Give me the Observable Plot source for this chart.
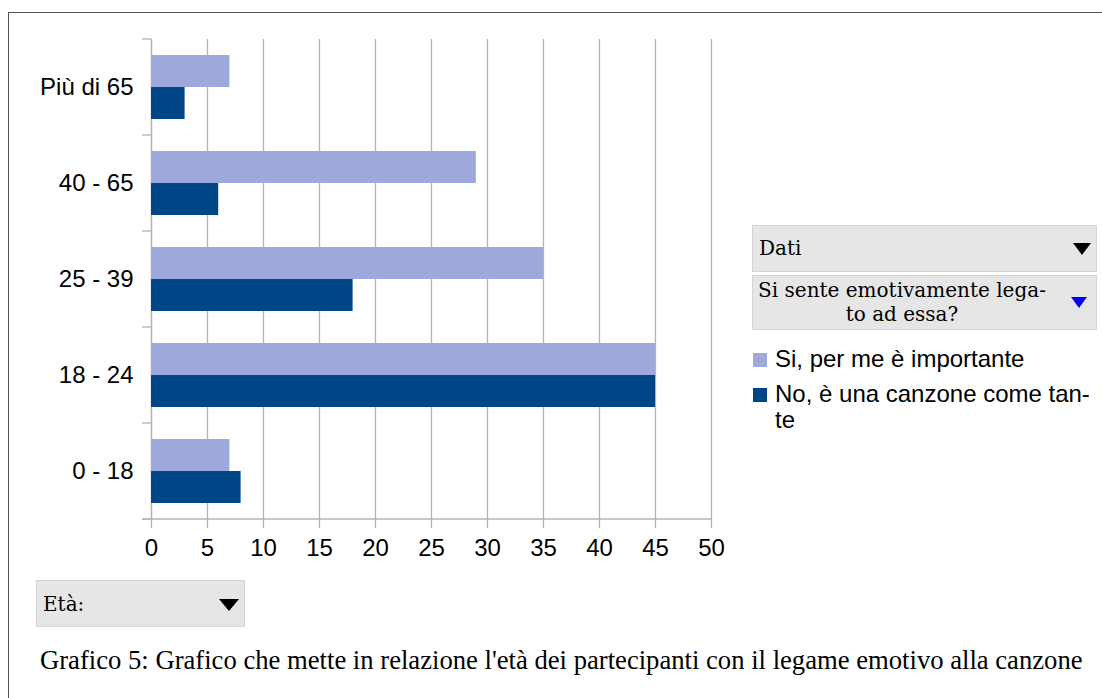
<!DOCTYPE html>
<html>
<head>
<meta charset="utf-8">
<script src="https://cdn.jsdelivr.net/npm/d3@7"></script>
<script src="https://cdn.jsdelivr.net/npm/@observablehq/plot@0.6"></script>
<style>
  html, body { margin: 0; padding: 0; background: #fff; }
  #page { position: relative; width: 1102px; height: 698px; overflow: hidden; background: #fff; }
  .frameTop { position: absolute; left: 8px; top: 12px; width: 1094px; height: 0; border-top: 1.5px solid #555; }
  .frameLeft { position: absolute; left: 8px; top: 12px; width: 0; height: 686px; border-left: 1.5px solid #555; }
  #chart { position: absolute; left: 0; top: 0; }
  .pivot { position: absolute; background: #e6e6e6; border: 1px solid #d4d4d4; box-sizing: border-box;
           font-family: "DejaVu Serif", serif; font-size: 20px; color: #000; }
  .tri { position: absolute; width: 0; height: 0; border-left: 9px solid transparent; border-right: 9px solid transparent; }
  .legItem { position: absolute; left: 775px; font-family: "Liberation Sans", Arial, sans-serif; font-size: 24px; line-height: 26px; color: #000; white-space: nowrap; }
  .sw { position: absolute; left: 753px; width: 14px; height: 14px; }
  #caption { position: absolute; left: 40px; top: 646px; font-family: "Liberation Serif", "Times New Roman", serif; font-size: 24px; line-height: 28px; white-space: nowrap; color: #000; }
</style>
</head>
<body>
<div id="page">
  <div class="frameTop"></div>
  <div class="frameLeft"></div>
  <div id="chart"></div>
  <div id="legend"></div>
  <div class="pivot" style="left:752px;top:225px;width:345px;height:47px;">
    <div style="position:absolute;left:6px;top:10px;" id="pivotData"></div>
    <div class="tri" style="left:320px;top:17px;border-top:12px solid #000;"></div>
  </div>
  <div class="pivot" style="left:752px;top:275px;width:345px;height:55px;">
    <div style="position:absolute;left:-2px;top:2px;width:302px;text-align:center;line-height:24px;white-space:nowrap;" id="pivotCol"></div>
    <div class="tri" style="left:318px;top:21px;border-left-width:8px;border-right-width:8px;border-top:11px solid #0000ff;"></div>
  </div>
  <div class="pivot" style="left:36px;top:580px;width:209px;height:47px;">
    <div style="position:absolute;left:6px;top:11px;" id="pivotRow"></div>
    <div class="tri" style="left:182px;top:18px;border-left-width:10px;border-right-width:10px;border-top:12px solid #000;"></div>
  </div>
  <div id="caption"></div>
</div>
<script>
// ---- data ----
const categories = ["Più di 65", "40 - 65", "25 - 39", "18 - 24", "0 - 18"];
const seriesNames = ["Si, per me è importante", "No, è una canzone come tante"];
const siValues = [7, 29, 35, 45, 7];
const noValues = [3, 6, 18, 45, 8];
const seriesColors = ["#9ea8da", "#004586"];
const xTicks = [0, 5, 10, 15, 20, 25, 30, 35, 40, 45, 50];
const legendLabels = ["Si, per me è importante", "No, è una canzone come tan-<br>te"];
const pivotDataLabel = "Dati";
const pivotColLabel = "Si sente emotivamente lega-<br>to ad essa?";
const pivotRowLabel = "Età:";
const captionText = "Grafico 5: Grafico che mette in relazione l'età dei partecipanti con il legame emotivo alla canzone";

const rows = categories.flatMap((c, i) => [
  {cat: c, series: seriesNames[0], value: siValues[i]},
  {cat: c, series: seriesNames[1], value: noValues[i]}
]);

const gridColor = "#b3b3b3";

const plot = Plot.plot({
  width: 740,
  height: 580,
  marginLeft: 151,
  marginRight: 29,
  marginTop: 39,
  marginBottom: 61,
  style: {fontFamily: "'Liberation Sans', Arial, sans-serif", fontSize: "24px", color: "#000", background: "transparent"},
  x: {domain: [0, 50], label: null},
  y: {domain: seriesNames, paddingInner: 0, paddingOuter: 0.5, axis: null, label: null},
  fy: {domain: categories, padding: 0, label: null},
  color: {domain: seriesNames, range: seriesColors},
  marks: [
    Plot.gridX({ticks: xTicks, stroke: gridColor, strokeOpacity: 1, strokeWidth: 1.3}),
    Plot.ruleX([0], {stroke: gridColor, strokeWidth: 1.3}),
    Plot.barX(rows, {x: "value", y: "series", fy: "cat", fill: "series"}),
    Plot.axisX({ticks: xTicks, tickSize: 9, tickPadding: 10, stroke: gridColor, strokeWidth: 1.3, fill: "#000", fontSize: 24, label: null, tickFormat: d => String(d)}),
    Plot.axisFy({anchor: "left", tickSize: 0, tickPadding: 18, fontSize: 24, label: null, fill: "#000"})
  ]
});
document.getElementById("chart").appendChild(plot);

// axis line and category boundary ticks, positioned through the plot's own scales
const xs = plot.scale("x");
const fys = plot.scale("fy");
const svg = d3.select(plot);
const x0 = xs.apply(0), xEnd = xs.apply(50);
const bw = fys.bandwidth;
const bounds = categories.map(c => fys.apply(c)).concat([fys.apply(categories[categories.length - 1]) + bw]);
const g = svg.append("g").attr("stroke", gridColor).attr("stroke-width", 1.3);
bounds.forEach(y => {
  g.append("line").attr("x1", x0 - 9).attr("x2", x0).attr("y1", y).attr("y2", y);
});
g.append("line").attr("x1", x0 - 9).attr("x2", xEnd).attr("y1", bounds[bounds.length - 1]).attr("y2", bounds[bounds.length - 1]);

// legend
const legend = document.getElementById("legend");
const legTops = [346, 381];
seriesNames.forEach((s, i) => {
  const sw = document.createElement("div");
  sw.className = "sw";
  sw.style.top = (legTops[i] + 7) + "px";
  sw.style.background = seriesColors[i];
  legend.appendChild(sw);
  const t = document.createElement("div");
  t.className = "legItem";
  t.style.top = legTops[i] + "px";
  t.innerHTML = legendLabels[i];
  legend.appendChild(t);
});

document.getElementById("pivotData").textContent = pivotDataLabel;
document.getElementById("pivotCol").innerHTML = pivotColLabel;
document.getElementById("pivotRow").textContent = pivotRowLabel;

// caption fitted to the reference width
const cap = document.getElementById("caption");
cap.textContent = captionText;
const w = cap.getBoundingClientRect().width;
cap.style.fontSize = (24 * 1043 / w) + "px";
</script>
</body>
</html>
